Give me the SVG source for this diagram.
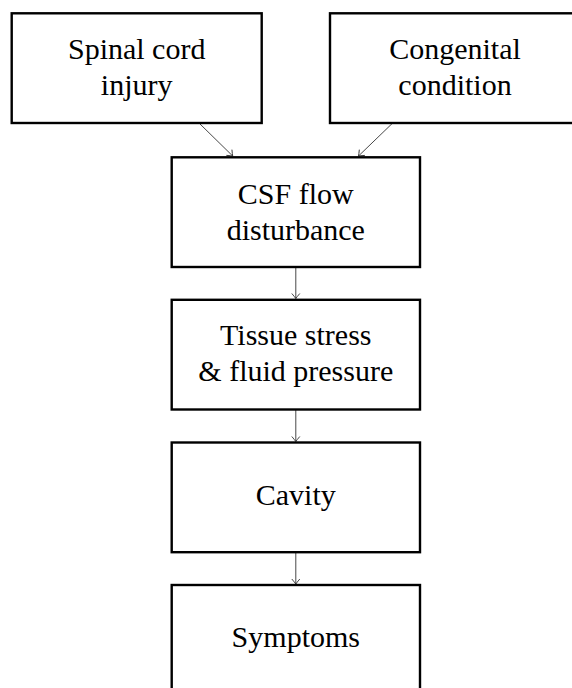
<svg xmlns="http://www.w3.org/2000/svg" width="572" height="688" viewBox="0 0 572 688">
<defs>
<style>
.box{fill:#fff;stroke:#000;stroke-width:2.4}
.t{font-family:"Liberation Serif","Times New Roman",serif;font-size:30px;fill:#000;text-anchor:middle}
.edge{fill:none;stroke:#333;stroke-width:0.9}
</style>
<marker id="to" viewBox="-6 -5 8 10" refX="0" refY="0" markerWidth="8" markerHeight="10" markerUnits="userSpaceOnUse" orient="auto">
<path d="M-5,-4 Q-1.5,-1 0,0 Q-1.5,1 -5,4" fill="none" stroke="#333" stroke-width="0.9"/>
</marker>
</defs>
<rect width="572" height="688" fill="#fff"/>
<g id="edges">
<line class="edge" x1="199" y1="123" x2="232.7" y2="156" marker-end="url(#to)"/>
<line class="edge" x1="392.7" y1="123" x2="358.5" y2="156" marker-end="url(#to)"/>
<line class="edge" x1="295.8" y1="267" x2="295.8" y2="298.5" marker-end="url(#to)"/>
<line class="edge" x1="295.8" y1="409.5" x2="295.8" y2="441.5" marker-end="url(#to)"/>
<line class="edge" x1="295.8" y1="552" x2="295.8" y2="584" marker-end="url(#to)"/>
</g>
<g id="spinal">
<rect class="box" x="11.7" y="13.3" width="250" height="109.7"/>
<text class="t" x="136.7" y="59">Spinal cord</text>
<text class="t" x="136.7" y="95">injury</text>
</g>
<g id="congenital">
<rect class="box" x="330" y="13.3" width="250" height="109.7"/>
<text class="t" x="455" y="59">Congenital</text>
<text class="t" x="455" y="95">condition</text>
</g>
<g id="csf">
<rect class="box" x="171.7" y="157.3" width="248.3" height="109.7"/>
<text class="t" x="295.8" y="204">CSF flow</text>
<text class="t" x="295.8" y="240">disturbance</text>
</g>
<g id="tissue">
<rect class="box" x="171.7" y="299.8" width="248.3" height="109.7"/>
<text class="t" x="295.8" y="345">Tissue stress</text>
<text class="t" x="295.8" y="381">&amp; fluid pressure</text>
</g>
<g id="cavity">
<rect class="box" x="171.7" y="442.5" width="248.3" height="109.7"/>
<text class="t" x="295.8" y="505">Cavity</text>
</g>
<g id="symptoms">
<rect class="box" x="171.7" y="585" width="248.3" height="109.7"/>
<text class="t" x="295.8" y="647">Symptoms</text>
</g>
</svg>
